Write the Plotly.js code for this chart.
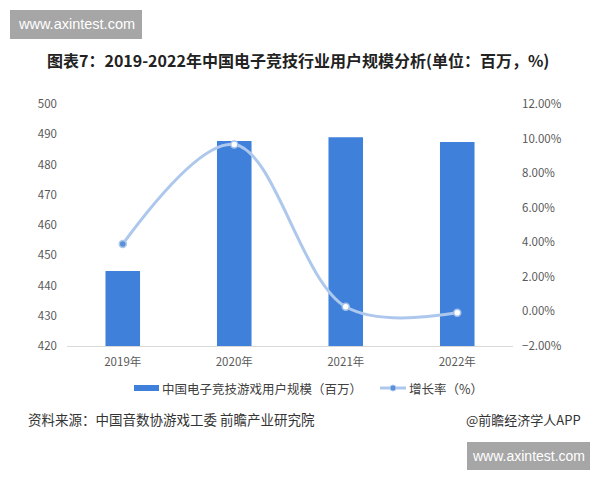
<!DOCTYPE html>
<html>
<head>
<meta charset="utf-8">
<script src="https://cdn.plot.ly/plotly-3.0.1.min.js"></script>
<style>
html,body{margin:0;padding:0;background:#fff;}
#chart{width:600px;height:480px;}
</style>
</head>
<body>
<div id="chart"></div>
<script>
const years = ['2019年', '2020年', '2021年', '2022年'];
const users = [444.8, 487.8, 489.0, 487.4];
const growth = [0.039, 0.0966, 0.0027, -0.0008];
const leftTicks = [420, 430, 440, 450, 460, 470, 480, 490, 500];
const rightTicks = [-0.02, 0, 0.02, 0.04, 0.06, 0.08, 0.10, 0.12];
const seriesNames = ['中国电子竞技游戏用户规模（百万）', '增长率（%）'];

const FONT = '"Noto Sans CJK SC", "Microsoft YaHei", sans-serif';
const W = 446, H = 242, L = 67, T = 104;
const px = x => (x - L) / W;
const py = y => (T + H - y) / H;

const traces = [
  {
    type: 'bar',
    name: seriesNames[0],
    x: years,
    y: users,
    marker: {color: '#3f80db'},
    width: 0.31,
    hoverinfo: 'skip'
  },
  {
    type: 'scatter',
    mode: 'lines+markers',
    name: seriesNames[1],
    x: years,
    y: growth,
    yaxis: 'y2',
    line: {color: '#adc8ec', width: 3, shape: 'spline', smoothing: 1},
    marker: {size: 7, color: ['#5b8fd8', '#ffffff', '#ffffff', '#ffffff'],
             line: {color: ['#adc8ec', '#a3c0e8', '#a3c0e8', '#a3c0e8'], width: 1.5}},
    hoverinfo: 'skip'
  }
];

const layout = {
  width: 600, height: 480,
  margin: {l: L, r: 600 - L - W, t: T, b: 480 - T - H},
  paper_bgcolor: '#ffffff', plot_bgcolor: '#ffffff',
  font: {family: FONT, color: '#595959', size: 11},
  showlegend: false,
  xaxis: {type: 'category', showgrid: false, zeroline: false, showline: true,
          linecolor: '#d9d9d9', linewidth: 1, ticks: '', ticklabelstandoff: 5,
          tickfont: {size: 11.5, color: '#595959'}},
  yaxis: {range: [420, 500], tickvals: leftTicks, showgrid: false, zeroline: false,
          showline: false, ticks: '', ticklabelstandoff: 9, tickfont: {size: 11.5, color: '#595959'}},
  yaxis2: {range: [-0.02, 0.12], tickvals: rightTicks, tickformat: '.2%', overlaying: 'y',
           side: 'right', showgrid: false, zeroline: false, showline: false, ticks: '',
           ticklabelstandoff: 8, tickfont: {size: 11.5, color: '#595959'}},
  shapes: [
    {type: 'rect', xref: 'paper', yref: 'paper', x0: px(10), x1: px(142),
     y0: py(39), y1: py(10), fillcolor: '#a6a6a6', line: {width: 0}, layer: 'above'},
    {type: 'rect', xref: 'paper', yref: 'paper', x0: px(467), x1: px(590),
     y0: py(470), y1: py(442), fillcolor: '#a6a6a6', line: {width: 0}, layer: 'above'},
    // custom legend swatches
    {type: 'rect', xref: 'paper', yref: 'paper', x0: px(134), x1: px(159),
     y0: py(391), y1: py(385), fillcolor: '#3f80db', line: {width: 0}},
    {type: 'line', xref: 'paper', yref: 'paper', x0: px(380), x1: px(406),
     y0: py(388), y1: py(388), line: {color: '#adc8ec', width: 3}},
    {type: 'circle', xref: 'paper', yref: 'paper', x0: px(390), x1: px(396),
     y0: py(391), y1: py(385), fillcolor: '#5b8fd8', line: {color: '#adc8ec', width: 1}}
  ],
  annotations: [
    {text: '<b>图表7：2019-2022年中国电子竞技行业用户规模分析(单位：百万，%)</b>',
     xref: 'paper', yref: 'paper', x: px(298), y: py(60),
     xanchor: 'center', yanchor: 'middle', showarrow: false,
     font: {size: 16, color: '#222222', family: FONT}},
    {text: seriesNames[0], xref: 'paper', yref: 'paper', x: px(160), y: py(388),
     xanchor: 'left', yanchor: 'middle', showarrow: false,
     font: {size: 12.5, color: '#404040', family: FONT}},
    {text: seriesNames[1], xref: 'paper', yref: 'paper', x: px(407), y: py(388),
     xanchor: 'left', yanchor: 'middle', showarrow: false,
     font: {size: 12.5, color: '#404040', family: FONT}},
    {text: 'www.axintest.com', xref: 'paper', yref: 'paper',
     x: px(76), y: py(24.5), xanchor: 'center', yanchor: 'middle',
     showarrow: false, font: {size: 14.5, color: '#ffffff', family: 'Liberation Sans, Arial, sans-serif'}},
    {text: 'www.axintest.com', xref: 'paper', yref: 'paper',
     x: px(528.5), y: py(456), xanchor: 'center', yanchor: 'middle',
     showarrow: false, font: {size: 14, color: '#ffffff', family: 'Liberation Sans, Arial, sans-serif'}},
    {text: '资料来源：中国音数协游戏工委 前瞻产业研究院', xref: 'paper', yref: 'paper',
     x: px(26), y: py(419), xanchor: 'left', yanchor: 'middle',
     showarrow: false, font: {size: 13.5, color: '#333333', family: FONT}},
    {text: '@前瞻经济学人APP', xref: 'paper', yref: 'paper',
     x: px(583), y: py(419), xanchor: 'right', yanchor: 'middle',
     showarrow: false, font: {size: 13, color: '#333333', family: FONT}}
  ]
};

Plotly.newPlot('chart', traces, layout, {displayModeBar: false, staticPlot: true});
</script>
</body>
</html>
